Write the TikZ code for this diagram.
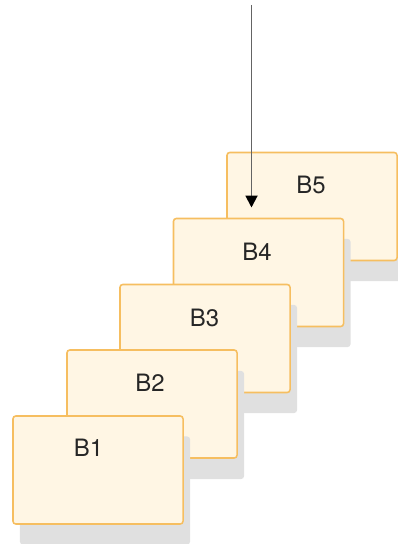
\documentclass[tikz,border=0pt]{standalone}
\usepackage{fontspec}
\setmainfont{TeX Gyre Heros}
\usetikzlibrary{arrows.meta}

\definecolor{blockfill}{RGB}{255,246,228}
\definecolor{blockline}{RGB}{246,190,96}
\definecolor{blockshade}{RGB}{224,224,224}
\definecolor{feedline}{RGB}{100,100,100}

\tikzset{
  block/.style={draw=blockline, fill=blockfill, line width=1.1pt, rounded corners=2pt,
    minimum width=4.25cm, minimum height=2.7cm, inner sep=0pt},
  blockshadow/.style={fill=blockshade, rounded corners=2pt,
    minimum width=4.25cm, minimum height=2.7cm, inner sep=0pt},
  blocklabel/.style={text=black!85, inner sep=0pt, font=\fontsize{17}{20}\selectfont},
  feed/.style={draw=feedline, line width=1.4pt, -{Triangle[length=8.5pt,width=8.5pt,fill=black,color=black]}}
}

\begin{document}
\begin{tikzpicture}[x=0.025cm,y=-0.025cm]
  \useasboundingbox (0,0) rectangle (398,544);

  % back block
  \node[blockshadow] (s5) at (319,227) {};
  \node[block] (b5) at (312,206.5) {};
  \node[blocklabel] (l5) at (311,185) {B5};

  \node[blockshadow] (s4) at (265.5,293) {};
  \node[block] (b4) at (258.5,272.5) {};
  \node[blocklabel] (l4) at (257,252) {B4};

  \node[blockshadow] (s3) at (212,359) {};
  \node[block] (b3) at (205,338.5) {};
  \node[blocklabel] (l3) at (204.5,317.5) {B3};

  \node[blockshadow] (s2) at (159,425) {};
  \node[block] (b2) at (152,404) {};
  \node[blocklabel] (l2) at (150,383) {B2};

  % front block
  \node[blockshadow] (s1) at (105,490.5) {};
  \node[block] (b1) at (98,470) {};
  \node[blocklabel] (l1) at (88.5,448) {B1};

  % incoming arrow
  \coordinate (top) at (251.5,5);
  \coordinate (tip) at (251.5,207.5);
  \draw[feed] (top) -- (tip);
\end{tikzpicture}
\end{document}
